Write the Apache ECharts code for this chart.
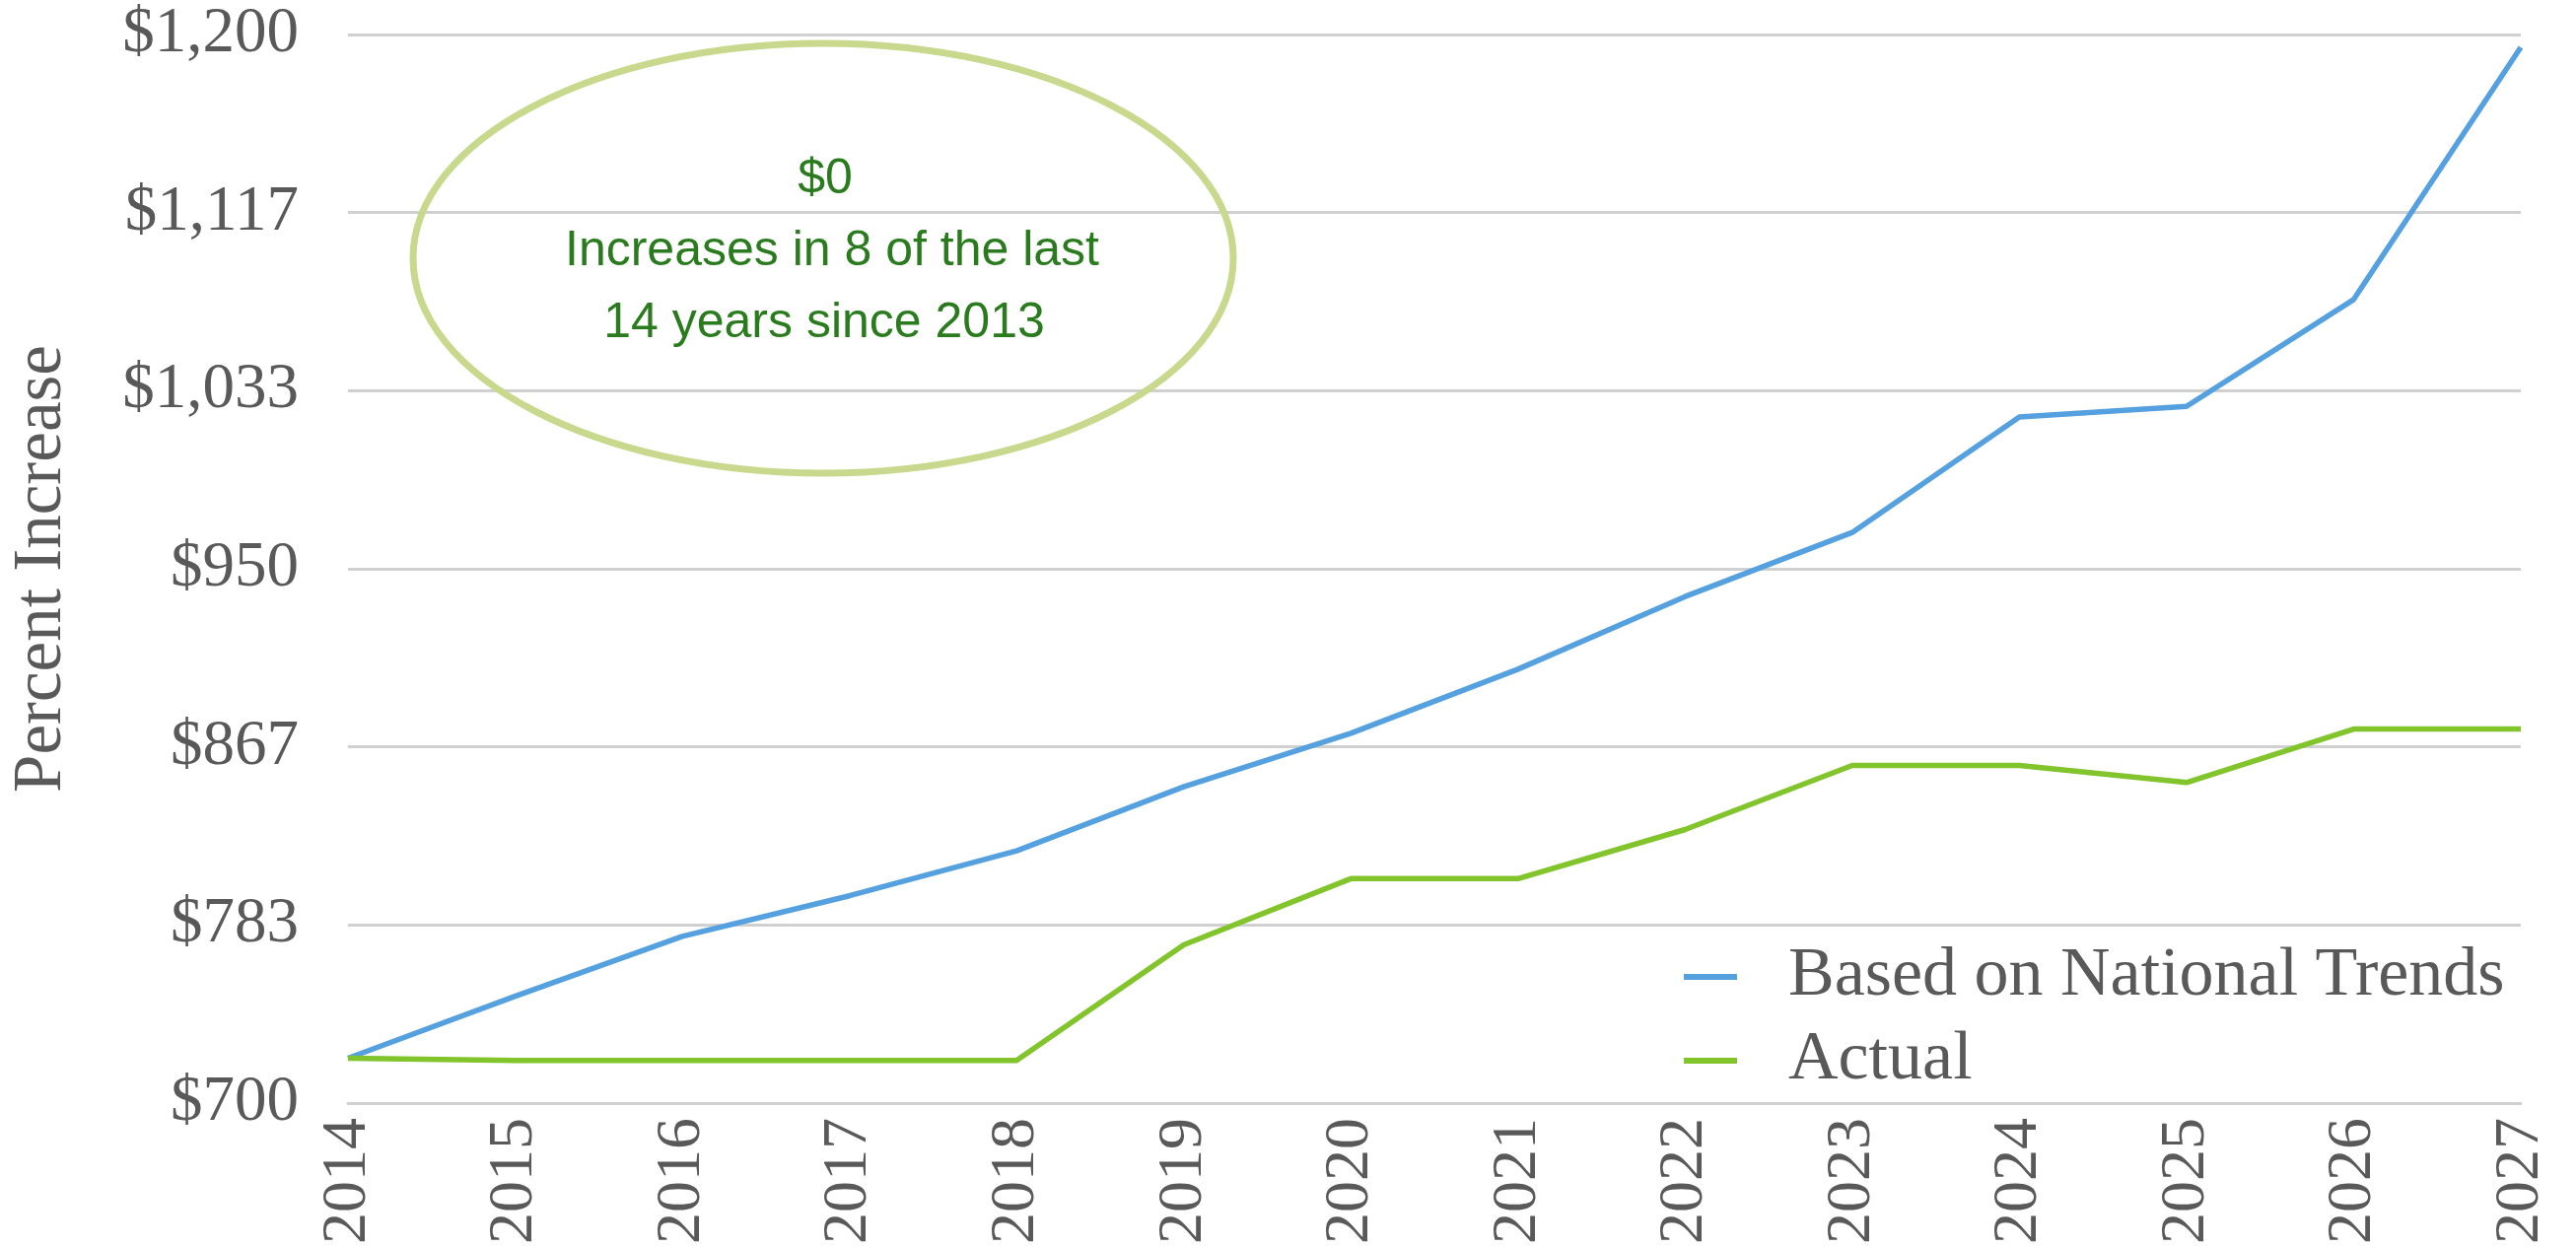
<!DOCTYPE html>
<html>
<head>
<meta charset="utf-8">
<script src="https://cdn.jsdelivr.net/npm/echarts@6/dist/echarts.min.js"></script>
<style>
  html, body { margin: 0; padding: 0; background: #ffffff; }
  #chart { width: 2613px; height: 1265px; }
</style>
</head>
<body>
<div id="chart"></div>
<script>
// Years on the horizontal axis
const years = ['2014', '2015', '2016', '2017', '2018', '2019', '2020',
               '2021', '2022', '2023', '2024', '2025', '2026', '2027'];

// Projected amount if following national trends
const nationalTrend = [721, 750, 778, 797, 818, 848, 873, 903, 937, 967, 1021, 1026, 1076, 1194];

// Actual amount
const actual = [721, 720, 720, 720, 720, 774, 805, 805, 828, 858, 858, 850, 875, 875];

// Value axis range and step (six equal steps from $700 to $1,200)
const yMin = 700;
const yMax = 1200;
const yStep = (yMax - yMin) / 6;

// Callout text
const calloutLines = ['$0', 'Increases in 8 of the last', '14 years since 2013'];

const serif = '"Palatino Linotype", "Book Antiqua", Palatino, "Liberation Serif", serif';
const sans = '"Liberation Sans", Arial, Helvetica, sans-serif';
const grey = '#595959';
const calloutGreen = '#2a7a1e';

const chart = echarts.init(document.getElementById('chart'), null, { renderer: 'canvas' });

chart.setOption({
  backgroundColor: '#ffffff',
  animation: false,
  grid: { left: 347, right: 56, top: 35, bottom: 146, containLabel: false },
  legend: {
    orient: 'vertical',
    left: 1703,
    top: 948,
    itemWidth: 54,
    itemHeight: 6,
    itemGap: 9,
    icon: 'rect',
    textStyle: {
      fontFamily: serif,
      fontSize: 70,
      color: grey,
      lineHeight: 70,
      padding: [6, 0, 0, 47]
    },
    data: ['Based on National Trends', 'Actual']
  },
  xAxis: {
    type: 'category',
    data: years,
    boundaryGap: false,
    axisLine: { show: true, lineStyle: { color: '#d0d0d0', width: 3 } },
    axisTick: { show: false },
    axisLabel: {
      rotate: 90,
      margin: 15,
      fontFamily: serif,
      fontSize: 64,
      color: grey
    }
  },
  yAxis: {
    type: 'value',
    min: yMin,
    max: yMax,
    interval: yStep,
    name: 'Percent Increase',
    nameLocation: 'middle',
    nameRotate: 90,
    nameGap: 276,
    nameTextStyle: { fontFamily: serif, fontSize: 69, color: grey },
    axisLine: { show: false },
    axisTick: { show: false },
    splitLine: { show: true, lineStyle: { color: '#d0d0d0', width: 3 } },
    axisLabel: {
      margin: 50,
      padding: [10, 0, 0, 0],
      fontFamily: serif,
      fontSize: 65,
      color: grey,
      formatter: v => '$' + Math.round(v).toLocaleString('en-US')
    }
  },
  series: [
    {
      name: 'Based on National Trends',
      type: 'line',
      data: nationalTrend,
      symbol: 'none',
      lineStyle: { color: '#55a1e0', width: 5.5 },
      itemStyle: { color: '#55a1e0' },
      z: 3
    },
    {
      name: 'Actual',
      type: 'line',
      data: actual,
      symbol: 'none',
      lineStyle: { color: '#82c42c', width: 5.5 },
      itemStyle: { color: '#82c42c' },
      z: 4
    }
  ],
  graphic: [
    {
      type: 'ellipse',
      shape: { cx: 835, cy: 262, rx: 416, ry: 218 },
      style: { fill: 'rgba(0,0,0,0)', stroke: '#c8d88c', lineWidth: 7 },
      z: 10
    },
    {
      type: 'text',
      x: 837, y: 182,
      style: { text: calloutLines[0], fontFamily: sans, fontSize: 50, fill: calloutGreen, align: 'center', verticalAlign: 'middle' },
      z: 11
    },
    {
      type: 'text',
      x: 844, y: 255,
      style: { text: calloutLines[1], fontFamily: sans, fontSize: 50, fill: calloutGreen, align: 'center', verticalAlign: 'middle' },
      z: 11
    },
    {
      type: 'text',
      x: 836, y: 328,
      style: { text: calloutLines[2], fontFamily: sans, fontSize: 50, fill: calloutGreen, align: 'center', verticalAlign: 'middle' },
      z: 11
    }
  ]
});
</script>
</body>
</html>
